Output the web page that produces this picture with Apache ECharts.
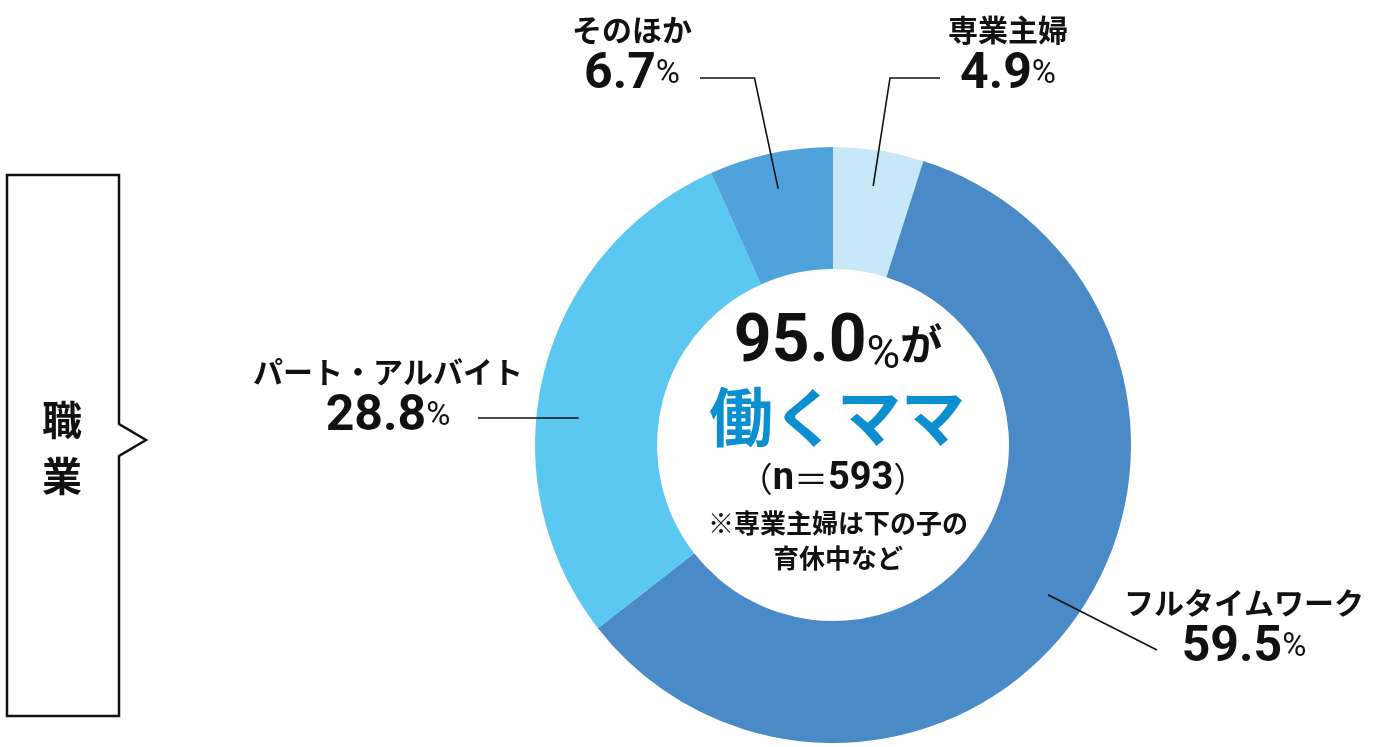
<!DOCTYPE html>
<html>
<head>
<meta charset="utf-8">
<title>職業</title>
<script src="https://cdn.jsdelivr.net/npm/echarts@6/dist/echarts.min.js"></script>
<style>
  html, body { margin: 0; padding: 0; background: #fff; }
  #container { width: 1400px; height: 747px; }
</style>
</head>
<body>
<div id="container"></div>
<script>
var names = ['専業主婦', 'フルタイムワーク', 'パート・アルバイト', 'そのほか']
var values = [4.9, 59.5, 28.8, 6.7]
var colors = ['#c8e7f8', '#4a8bc7', '#5bc8f1', '#4fa3da']
var headline = '95.0'
var sampleSize = '593'

;(function() {
  var myChart = echarts.init(document.getElementById('container'))
  var center = [833, 445]
  var jp = '"Noto Sans CJK JP"'
  var num = 'Roboto, "Noto Sans CJK JP"'

  // where each label block sits and how its line runs
  var spots = [
    { cx: 1008, top: 8, bendY: 78, end: [940, 78] },
    { cx: 1244, top: 581, end: [1157, 650] },
    { cx: 388, top: 350, end: [478, 418], flat: true },
    { cx: 632, top: 8, bendY: 78, end: [700, 78] }
  ]

  var ringData = names.map(function(n, i) {
    return { name: n, value: values[i], itemStyle: { color: colors[i] } }
  })
  var labelData = names.map(function(n, i) {
    return { name: n, value: values[i] }
  })

  var option = {
    animation: false,
    series: [
      {
        type: 'pie',
        z: 2,
        center: center,
        radius: [176, 298],
        startAngle: 90,
        clockwise: true,
        silent: true,
        emphasis: { disabled: true },
        label: { show: false },
        labelLine: { show: false },
        data: ringData
      },
      {
        // invisible copy, only carries the labels and their lines
        type: 'pie',
        z: 5,
        center: center,
        radius: [0, 262],
        startAngle: 90,
        clockwise: true,
        silent: true,
        avoidLabelOverlap: false,
        emphasis: { disabled: true },
        itemStyle: { color: 'rgba(0,0,0,0)' },
        label: {
          show: true,
          position: 'outer',
          color: '#111',
          formatter: function(p) {
            return '{n|' + p.name + '}\n{v|' + p.value.toFixed(1) + '}{p|%}'
          },
          rich: {
            n: { fontFamily: jp, fontWeight: 'bold', fontSize: 30, lineHeight: 44, color: '#111', align: 'center' },
            v: { fontFamily: num, fontWeight: 'bold', fontSize: 50, lineHeight: 46, color: '#111', align: 'center' },
            p: { fontFamily: num, fontSize: 33, lineHeight: 46, color: '#111', align: 'center' }
          }
        },
        labelLine: {
          show: true,
          length: 10,
          length2: 10,
          lineStyle: { color: '#111', width: 1.6 }
        },
        labelLayout: function(params) {
          var s = spots[params.dataIndex]
          var p0 = params.labelLinePoints[0]
          var pts
          if (s.bendY != null) {
            var dx = p0[0] - center[0], dy = p0[1] - center[1]
            var t = (s.bendY - p0[1]) / dy
            pts = [p0, [p0[0] + dx * t, s.bendY], s.end]
          } else if (s.flat) {
            pts = [[p0[0], s.end[1]], s.end]
          } else {
            pts = [p0, s.end]
          }
          return { x: s.cx, y: s.top, align: 'center', verticalAlign: 'top', labelLinePoints: pts }
        },
        data: labelData
      }
    ],
    graphic: [
      {
        type: 'polygon',
        shape: { points: [[7, 175], [119, 175], [119, 424], [146, 440], [119, 456], [119, 716], [7, 716]] },
        style: { fill: '#fff', stroke: '#111', lineWidth: 2.5 }
      },
      {
        type: 'text', x: 62, y: 448,
        style: { text: '職\n業', font: 'bold 40px ' + jp, fill: '#111', align: 'center', verticalAlign: 'middle', lineHeight: 56 }
      },
      {
        type: 'text', x: 838, y: 344,
        style: {
          text: '{a|' + headline + '}{b|%}{c|が}',
          align: 'center', verticalAlign: 'middle',
          rich: {
            a: { fontFamily: num, fontWeight: 'bold', fontSize: 66, fill: '#111', lineHeight: 70 },
            b: { fontFamily: num, fontSize: 46, fill: '#111', lineHeight: 70, verticalAlign: 'bottom' },
            c: { fontFamily: jp, fontWeight: 'bold', fontSize: 42, fill: '#111', lineHeight: 70 }
          }
        }
      },
      {
        type: 'text', x: 837, y: 417,
        style: { text: '働くママ', font: 'bold 64px ' + jp, fill: '#0a8fd0', align: 'center', verticalAlign: 'middle' }
      },
      {
        type: 'text', x: 833, y: 479,
        style: {
          text: '{q|（}{m|n}{q|＝}{m|' + sampleSize + '}{q|）}',
          align: 'center', verticalAlign: 'middle',
          rich: {
            q: { fontFamily: jp, fontSize: 34, fill: '#111' },
            m: { fontFamily: num, fontWeight: 'bold', fontSize: 38, fill: '#111' }
          }
        }
      },
      {
        type: 'text', x: 838, y: 541,
        style: { text: '※専業主婦は下の子の\n育休中など', font: 'bold 26px ' + jp, fill: '#111', align: 'center', verticalAlign: 'middle', lineHeight: 35 }
      }
    ]
  }

  myChart.setOption(option)
})()
</script>
</body>
</html>
